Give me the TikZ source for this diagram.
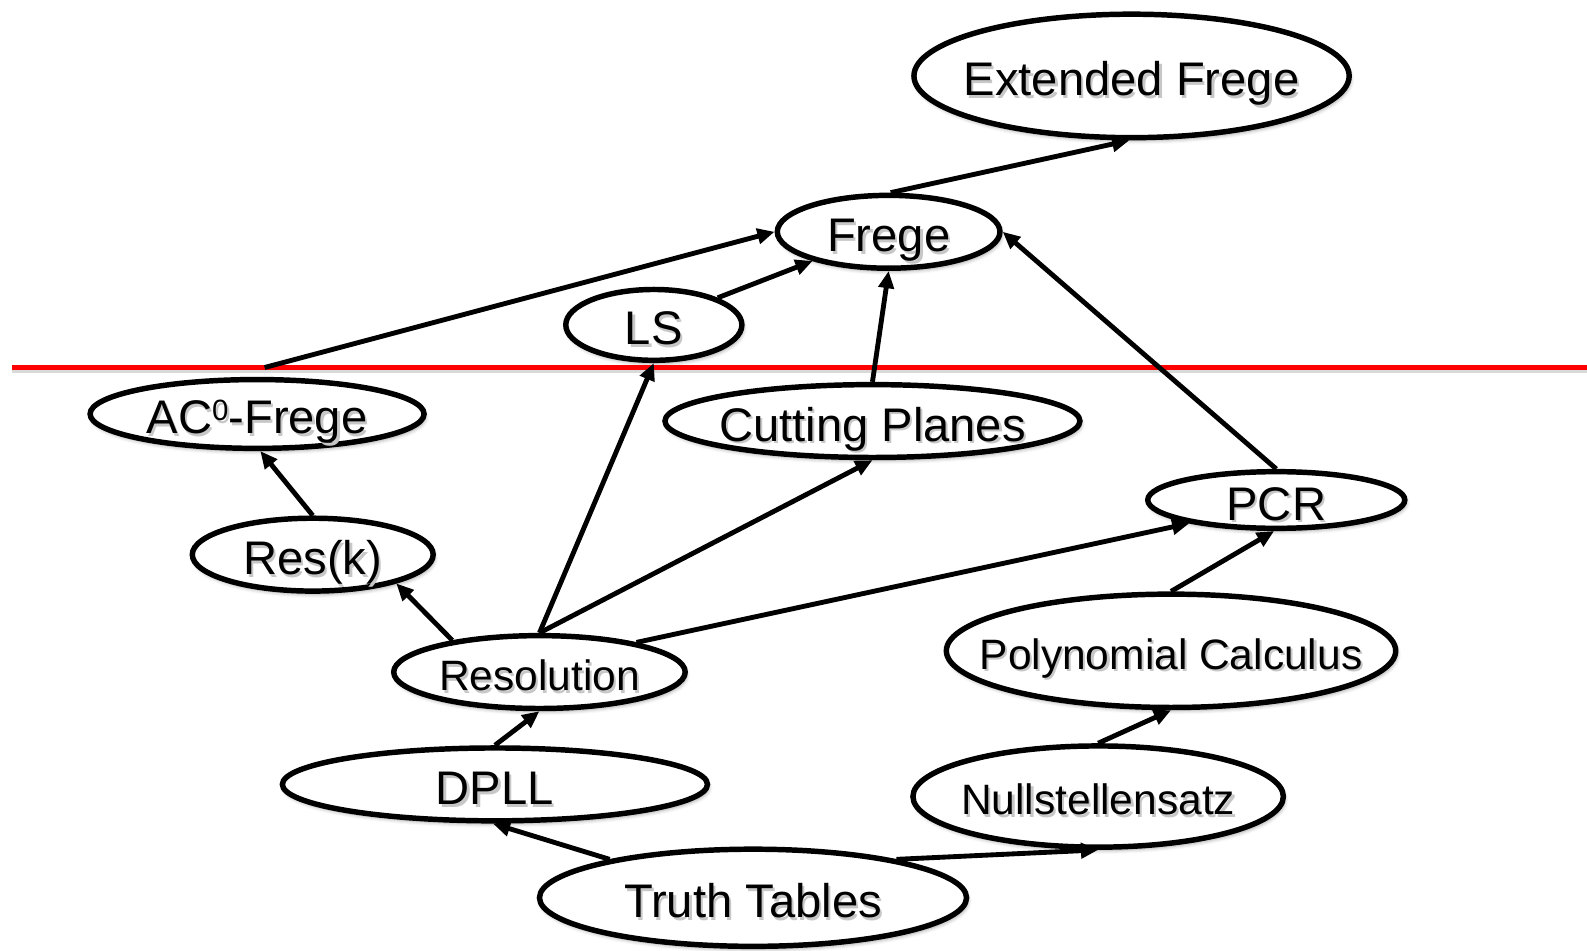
\documentclass[tikz,border=0pt]{standalone}
\usepackage{fontspec}
\setmainfont{Liberation Sans}
\usetikzlibrary{shapes.geometric,arrows.meta,shadows.blur}

% label with a soft grey drop shadow; zero width so the ellipse size is set by its minimum size
\newcommand{\shtext}[1]{\rule{0pt}{\dimexpr0.72em+3pt\relax}\makebox[0pt]{\smash{\makebox[0pt][l]{\kern1.1pt\raisebox{-1.4pt}{\color{black!22}#1}}#1}}}
% small raised digit for the depth index
\newcommand{\depthidx}[1]{\raisebox{6.8pt}{\fontsize{14.5}{14.5}\selectfont #1}}

\begin{document}
\begin{tikzpicture}[x=0.5pt,y=-0.5pt,
  sys/.style={ellipse, draw, line width=2.7pt, fill=white, inner sep=0pt,
    blur shadow={shadow xshift=0.8pt, shadow yshift=-1.6pt, shadow blur radius=1.8pt, shadow opacity=35},
    font=\fontsize{23.3}{28}\selectfont},
  smallfont/.style={font=\fontsize{21}{25}\selectfont},
  link/.style={line width=2.4pt, -{Triangle[length=8.5pt,width=7.5pt]}},
]
\useasboundingbox (0,0) rectangle (1568,939);

% proof systems
\node[sys, minimum width=215pt, minimum height=61pt] (ef)    at (1118,75)  {\shtext{Extended Frege}};
\node[sys, minimum width=110pt, minimum height=36pt] (frege) at (878,229)  {\shtext{Frege}};
\node[sys, minimum width=87pt,  minimum height=35pt] (ls)    at (646,321)  {\shtext{LS}};
\node[sys, minimum width=165pt, minimum height=34pt] (ac0)   at (254,409)  {\shtext{AC\depthidx{0}-Frege}};
\node[sys, minimum width=205pt, minimum height=36pt] (cp)    at (862,416)  {\shtext{Cutting Planes}};
\node[sys, minimum width=127pt, minimum height=28pt] (pcr)   at (1261,494) {\shtext{PCR}};
\node[sys, minimum width=119pt, minimum height=36pt] (resk)  at (309,548)  {\shtext{Res(k)}};
\node[sys, smallfont, minimum width=144pt, minimum height=36pt] (res)  at (533,664)  {\shtext{Resolution}};
\node[sys, smallfont, minimum width=222pt, minimum height=56pt] (poly) at (1157,643) {\shtext{Polynomial Calculus}};
\node[sys, minimum width=210pt, minimum height=36pt] (dpll)  at (489,775)  {\shtext{DPLL}};
\node[sys, smallfont, minimum width=183pt, minimum height=50pt] (nss)  at (1085,787) {\shtext{Nullstellensatz}};
\node[sys, minimum width=211pt, minimum height=48pt] (tt)    at (744,887)  {\shtext{Truth Tables}};

% red separating line with its shadow
\coordinate (cutL) at (12,363);
\coordinate (cutR) at (1568,363);
\draw[line width=2.4pt, black, opacity=0.15] ([yshift=-1.8pt]cutL) -- ([yshift=-1.8pt]cutR);
\draw[line width=2.4pt, red] (cutL) -- (cutR);

% simulations
\draw[link] (frege.87) -- (ef.268);
\draw[link, shorten <=19pt] (ac0.129) -- (frege.west);
\draw[link] (ls.23) -- (frege.201);
\draw[link] (cp.north) -- (frege.south);
\draw[link] (pcr.north) -- (frege.east);
\draw[link] (resk.north) -- (ac0.275);
\draw[link] (res.160) -- (resk.-19);
\draw[link] (res.north) -- (ls.south);
\draw[link] (res.north) -- (cp.south);
\draw[link] (res.17) -- (pcr.195);
\draw[link] (poly.north) -- (pcr.266);
\draw[link] (dpll.north) -- (res.south);
\draw[link] (nss.north) -- (poly.south);
\draw[link] (tt.165) -- (dpll.267);
\draw[link] (tt.15) -- (nss.south);
\end{tikzpicture}
\end{document}
